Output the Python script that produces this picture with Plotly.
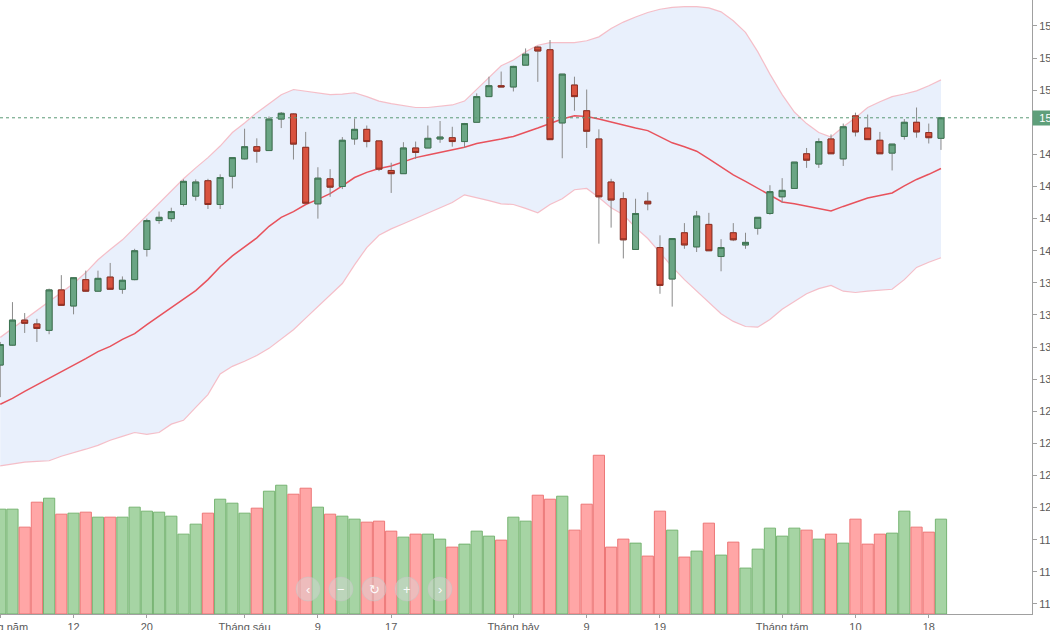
import plotly.graph_objects as go

# ---------------- data ----------------
dates = [
    "2021-05-04", "2021-05-05", "2021-05-06", "2021-05-07", "2021-05-10", "2021-05-11", "2021-05-12",
    "2021-05-13", "2021-05-14", "2021-05-17", "2021-05-18", "2021-05-19", "2021-05-20", "2021-05-21",
    "2021-05-24", "2021-05-25", "2021-05-26", "2021-05-27", "2021-05-28", "2021-05-31",
    "2021-06-01", "2021-06-02", "2021-06-03", "2021-06-04", "2021-06-07", "2021-06-08", "2021-06-09",
    "2021-06-10", "2021-06-11", "2021-06-14", "2021-06-15", "2021-06-16", "2021-06-17", "2021-06-18",
    "2021-06-21", "2021-06-22", "2021-06-23", "2021-06-24", "2021-06-25", "2021-06-28", "2021-06-29",
    "2021-06-30",
    "2021-07-01", "2021-07-02", "2021-07-05", "2021-07-06", "2021-07-07", "2021-07-08", "2021-07-09",
    "2021-07-12", "2021-07-13", "2021-07-14", "2021-07-15", "2021-07-16", "2021-07-19", "2021-07-20",
    "2021-07-21", "2021-07-22", "2021-07-23", "2021-07-26", "2021-07-27", "2021-07-28", "2021-07-29",
    "2021-07-30",
    "2021-08-02", "2021-08-03", "2021-08-04", "2021-08-05", "2021-08-06", "2021-08-09", "2021-08-10",
    "2021-08-11", "2021-08-12", "2021-08-13", "2021-08-16", "2021-08-17", "2021-08-18", "2021-08-19",
]

open_ = [131.1, 132.65, 134.6, 134.3, 133.8, 136.95, 135.7, 137.75, 136.85, 137.95,
         137.0, 137.75, 140.1, 142.35, 142.5, 143.6, 144.25, 145.45, 143.6, 145.8,
         147.15, 148.1, 147.8, 150.25, 150.65, 148.05, 143.65, 145.6, 145.0, 148.7,
         149.45, 148.55, 146.25, 146.0, 148.0, 148.0, 148.7, 148.8, 148.5, 150.0,
         152.0, 152.85, 152.75, 154.45, 155.85, 155.65, 149.95, 152.9, 150.9, 148.7,
         145.35, 144.05, 140.1, 143.85, 140.25, 137.8, 141.4, 140.3, 142.05, 139.55,
         141.4, 140.45, 141.75, 142.9, 144.2, 144.85, 147.55, 146.75, 148.7, 147.15,
         150.5, 149.55, 148.6, 147.6, 148.9, 150.0, 149.2, 148.75]

high = [132.9, 136.0, 135.15, 134.7, 137.05, 138.1, 137.95, 138.45, 138.45, 139.05,
        138.0, 140.15, 142.5, 143.05, 143.35, 145.55, 145.55, 145.6, 145.95, 147.25,
        149.5, 148.75, 150.45, 150.8, 150.7, 149.25, 146.5, 146.35, 148.85, 150.3,
        149.75, 148.55, 146.85, 148.45, 148.5, 149.75, 150.1, 149.65, 149.95, 152.25,
        153.55, 153.95, 154.4, 155.75, 155.95, 156.4, 153.75, 153.55, 152.55, 149.45,
        145.6, 144.55, 144.05, 144.55, 141.2, 140.95, 142.15, 143.1, 142.95, 140.9,
        142.15, 141.4, 142.6, 145.1, 145.65, 146.9, 148.0, 148.75, 149.05, 149.9,
        150.75, 150.6, 149.25, 148.3, 150.25, 151.15, 149.9, 150.4]

low = [128.6, 132.6, 133.6, 132.9, 133.5, 135.75, 135.05, 136.8, 136.8, 136.95,
       136.65, 137.7, 139.55, 142.1, 142.25, 143.45, 143.9, 143.25, 143.25, 144.85,
       147.1, 146.85, 147.8, 149.55, 147.1, 143.7, 142.5, 144.2, 144.8, 148.25,
       148.05, 146.2, 144.5, 146.0, 147.15, 148.0, 148.4, 148.1, 148.0, 150.0,
       152.0, 152.75, 152.4, 154.45, 153.15, 148.65, 147.2, 150.9, 148.0, 140.55,
       141.8, 139.4, 140.1, 143.15, 136.65, 135.65, 140.15, 139.9, 140.0, 138.4,
       140.75, 140.15, 141.25, 142.8, 143.75, 144.85, 146.45, 146.45, 147.55, 146.6,
       148.9, 148.65, 147.55, 146.25, 148.65, 148.8, 148.35, 147.85]

close = [132.7, 134.6, 134.35, 133.95, 136.95, 135.75, 137.9, 136.85, 137.85, 137.0,
         137.7, 140.0, 142.35, 142.6, 143.05, 145.4, 145.35, 143.6, 145.7, 147.25,
         148.1, 147.75, 150.25, 150.7, 148.3, 143.7, 145.65, 144.95, 148.6, 149.45,
         148.5, 146.35, 146.0, 148.0, 147.65, 148.75, 148.85, 148.5, 149.9, 152.0,
         152.85, 152.75, 154.35, 155.3, 155.55, 148.65, 153.75, 152.0, 149.3, 144.2,
         143.95, 140.85, 142.9, 143.65, 137.3, 140.95, 140.45, 142.7, 140.0, 140.25,
         140.85, 140.65, 142.6, 144.6, 144.7, 146.9, 147.05, 148.5, 147.55, 149.65,
         149.25, 148.65, 147.55, 148.3, 150.0, 149.25, 148.8, 150.35]

ma20 = [128.05, 128.5, 129.05, 129.55, 130.05, 130.6, 131.1, 131.6, 132.15, 132.55,
        133.1, 133.55, 134.25, 134.9, 135.6, 136.2, 136.9, 137.75, 138.75, 139.6,
        140.3, 141.0, 141.9, 142.6, 143.05, 143.6, 144.0, 144.45, 145.05, 145.7,
        146.1, 146.4, 146.6, 146.95, 147.25, 147.45, 147.65, 147.85, 148.05, 148.35,
        148.5, 148.7, 148.9, 149.2, 149.55, 149.9, 150.25, 150.5, 150.45, 150.25,
        150.0, 149.8, 149.55, 149.35, 148.85, 148.4, 148.1, 147.75, 147.15, 146.55,
        145.9, 145.4, 144.85, 144.3, 143.8, 143.65, 143.45, 143.25, 143.1, 143.45,
        143.8, 144.1, 144.3, 144.5, 145.05, 145.55, 145.95, 146.4]

band_upper = [133.25, 133.95, 134.65, 135.3, 136.05, 136.75, 137.45, 138.3, 139.3, 140.1,
              140.85, 141.8, 142.75, 143.75, 144.7, 145.6, 146.45, 147.25, 148.15, 149.2,
              149.95, 150.75, 151.45, 152.15, 152.55, 152.4, 152.3, 152.15, 152.2, 152.3,
              152.0, 151.65, 151.45, 151.3, 151.15, 151.15, 151.25, 151.35, 151.65, 152.55,
              153.45, 154.4, 154.85, 155.5, 156.0, 156.2, 156.2, 156.2, 156.35, 156.65,
              157.3, 157.8, 158.2, 158.55, 158.8, 158.95, 159.0, 159.0, 158.9, 158.6,
              157.9, 157.0, 155.5, 153.75, 152.15, 150.8, 149.9, 149.2, 148.85, 149.65,
              150.35, 151.15, 151.6, 152.0, 152.2, 152.45, 152.85, 153.3]

band_lower = [123.25, 123.4, 123.55, 123.6, 123.65, 124.0, 124.25, 124.55, 124.85, 125.25,
              125.55, 125.85, 125.7, 125.85, 126.5, 126.8, 127.8, 128.8, 130.4, 131.0,
              131.4, 131.85, 132.4, 133.1, 133.85, 134.75, 135.65, 136.5, 137.45, 138.9,
              140.25, 141.2, 141.7, 142.1, 142.5, 142.95, 143.3, 143.75, 144.35, 144.15,
              143.9, 143.65, 143.6, 143.3, 142.95, 143.6, 144.05, 144.75, 144.85, 144.15,
              143.35, 142.8, 141.8, 140.95, 139.85, 138.75, 137.75, 136.85, 135.95, 135.1,
              134.5, 134.1, 134.05, 134.65, 135.45, 136.05, 136.65, 137.05, 137.3, 136.85,
              136.75, 136.85, 136.9, 137.0, 137.75, 138.7, 139.1, 139.45]

volume = [105, 105, 87, 112, 116, 100, 101, 102, 97, 97,
          97, 107, 103, 102, 98, 80, 90, 101, 115, 111,
          101, 106, 123, 129, 120, 126, 107, 100, 98, 95,
          92, 93, 83, 77, 80, 80, 75, 67, 70, 83,
          78, 74, 97, 93, 119, 115, 118, 84, 110, 159,
          67, 75, 71, 58, 103, 84, 57, 63, 91, 59,
          72, 46, 65, 86, 78, 86, 84, 75, 80, 71,
          95, 70, 80, 81, 103, 87, 82, 95]

tick_dates = ["2021-05-04", "2021-05-12", "2021-05-20", "2021-06-01", "2021-06-09", "2021-06-17",
              "2021-07-01", "2021-07-09", "2021-07-19", "2021-08-02", "2021-08-10", "2021-08-18"]
tick_labels = ["Tháng năm", "12", "20", "Tháng sáu", "9", "17",
               "Tháng bảy", "9", "19", "Tháng tám", "10", "18"]

# price scale ticks (the 150 tick sits under the last-price tag)
price_ticks = [112.5, 115, 117.5, 120, 122.5, 125, 127.5, 130, 132.5, 135, 137.5, 140,
               142.5, 145, 147.5, 152.5, 155, 157.5]

last_price = close[-1]

# ---------------- styles ----------------
FONT = "Liberation Sans, Arial, sans-serif"
AXIS_GREY = "#a0a0a0"
TEXT_GREY = "#5a5a5a"
UP_FILL, UP_LINE = "#6aa584", "#3d7552"
DN_FILL, DN_LINE = "#d9533f", "#8f2e22"
WICK = "#8a8a8a"
VOL_UP, VOL_UP_LINE = "rgba(150,205,148,0.85)", "rgba(110,175,105,0.9)"
VOL_DN, VOL_DN_LINE = "rgba(255,150,150,0.85)", "rgba(235,110,110,0.9)"
Y_RANGE = [111.72, 159.52]

x = list(range(len(dates)))
tickvals = [dates.index(d) for d in tick_dates]
up = [c >= o for o, c in zip(open_, close)]
body_hi = [max(o, c) for o, c in zip(open_, close)]
body_lo = [min(o, c) for o, c in zip(open_, close)]

fig = go.Figure()

# Bollinger band fill (base price axis y)
fig.add_trace(go.Scatter(x=x, y=band_lower, mode="lines", line=dict(width=0),
                         hoverinfo="skip", showlegend=False))
fig.add_trace(go.Scatter(x=x, y=band_upper, mode="lines", line=dict(width=0),
                         fill="tonexty", fillcolor="rgb(233,240,252)",
                         hoverinfo="skip", showlegend=False))
for band in (band_upper, band_lower):
    fig.add_trace(go.Scatter(x=x, y=band, mode="lines",
                             line=dict(color="rgba(245,180,190,0.85)", width=1.2),
                             hoverinfo="skip", showlegend=False))
fig.add_trace(go.Scatter(x=x, y=ma20, mode="lines",
                         line=dict(color="#e8525c", width=1.5),
                         hoverinfo="skip", showlegend=False))

# volume (overlay scale y2)
fig.add_trace(go.Bar(
    x=x, y=volume, yaxis="y2", width=0.92,
    marker=dict(color=[VOL_UP if u else VOL_DN for u in up],
                line=dict(color=[VOL_UP_LINE if u else VOL_DN_LINE for u in up], width=1)),
    hoverinfo="skip", showlegend=False))

# candles on overlay y3 (same price range) so they sit above the band fill
fig.add_trace(go.Candlestick(
    x=x, open=open_, high=high, low=low, close=close, yaxis="y3",
    increasing=dict(line=dict(color=WICK, width=1), fillcolor="rgba(0,0,0,0)"),
    decreasing=dict(line=dict(color=WICK, width=1), fillcolor="rgba(0,0,0,0)"),
    hoverinfo="skip", showlegend=False))
fig.add_trace(go.Candlestick(
    x=x, open=open_, high=body_hi, low=body_lo, close=close, yaxis="y3",
    increasing=dict(line=dict(color=UP_LINE, width=1), fillcolor=UP_FILL),
    decreasing=dict(line=dict(color=DN_LINE, width=1), fillcolor=DN_FILL),
    showlegend=False))

# last price dotted line + tag
fig.add_shape(type="line", xref="paper", x0=0, x1=1, yref="y", y0=last_price, y1=last_price,
              line=dict(color="#5b9a76", width=1, dash="dot"), layer="above")
fig.add_annotation(xref="paper", x=1, yref="y", y=last_price, text=f"\u2009 {last_price:.2f}",
                   showarrow=False, xanchor="left", yanchor="middle",
                   bgcolor="#5e9f7a", borderpad=1,
                   font=dict(family=FONT, size=11, color="white"))

# navigation buttons (faint overlay)
btn_glyphs = ["‹", "−", "↻", "+", "›"]
for k, g in enumerate(btn_glyphs):
    cx = (308 + 33 * k) / 1032
    fig.add_shape(type="circle", xref="paper", yref="paper",
                  x0=cx - 12 / 1032, x1=cx + 12 / 1032, y0=1 - 602 / 615, y1=1 - 578 / 615,
                  fillcolor="rgba(215,215,215,0.45)", line=dict(color="rgba(195,195,195,0.5)", width=1),
                  layer="above")
    fig.add_annotation(xref="paper", yref="paper", x=cx, y=1 - 590 / 615, text=g, showarrow=False,
                       xanchor="center", yanchor="middle",
                       font=dict(family=FONT, size=13, color="rgba(255,255,255,0.95)"))

fig.update_layout(
    width=1050, height=630,
    margin=dict(l=0, r=18, t=0, b=16),
    paper_bgcolor="white", plot_bgcolor="white",
    font=dict(family=FONT, size=11, color=TEXT_GREY),
    showlegend=False, hovermode=False,
    xaxis=dict(range=[-0.02, 84.45], tickmode="array", tickvals=tickvals, ticktext=tick_labels,
               showline=True, linecolor=AXIS_GREY, linewidth=1, ticks="outside", ticklen=3,
               tickcolor=AXIS_GREY, showgrid=False, zeroline=False, automargin=False,
               ticklabeloverflow="allow",
               tickfont=dict(family=FONT, size=11, color=TEXT_GREY),
               rangeslider=dict(visible=False), fixedrange=True),
    yaxis=dict(side="right", range=Y_RANGE, tickmode="array", tickvals=price_ticks,
               showline=True, linecolor=AXIS_GREY, linewidth=1, ticks="outside", ticklen=4,
               tickcolor=AXIS_GREY, showgrid=False, zeroline=False, automargin=False,
               ticklabeloverflow="allow",
               tickfont=dict(family=FONT, size=11, color=TEXT_GREY), fixedrange=True),
    yaxis2=dict(overlaying="y", range=[0, 615], visible=False, fixedrange=True),
    yaxis3=dict(overlaying="y", range=Y_RANGE, visible=False, fixedrange=True),
)

fig.write_html("out.html", config={"displayModeBar": False})
